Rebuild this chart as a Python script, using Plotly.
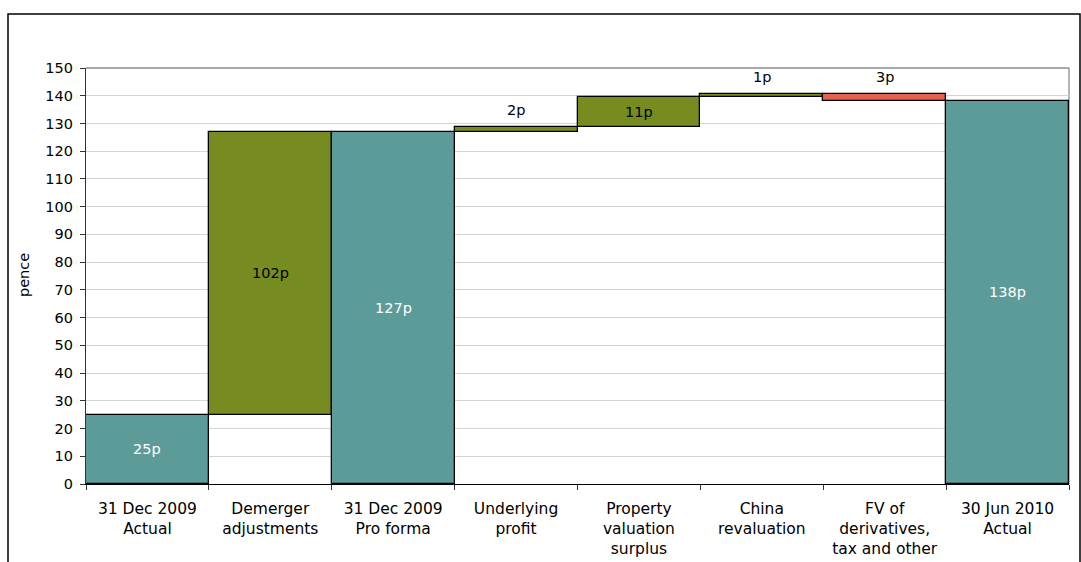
import plotly.graph_objects as go

# ---- data ----
categories = ["31 Dec 2009<br>Actual", "Demerger<br>adjustments", "31 Dec 2009<br>Pro forma",
              "Underlying<br>profit", "Property<br>valuation<br>surplus", "China<br>revaluation",
              "FV of<br>derivatives,<br>tax and other", "30 Jun 2010<br>Actual"]
measures = ["absolute", "relative", "total", "relative", "relative", "relative", "relative", "total"]
changes = [25, 102, None, 1.7, 11.0, 1.0, -2.5, None]
labels = ["25p", "102p", "127p", "2p", "11p", "1p", "3p", "138p"]
y_ticks = list(range(0, 151, 10))

# ---- styles ----
TEAL = "#5d9b99"
OLIVE = "#778c20"
RED = "#e2614f"
FONT = "DejaVu Sans"
FS = 14.5

bases, heights, colors, txtcol = [], [], [], []
running = 0.0
for m, d in zip(measures, changes):
    if m == "absolute":
        running = d
        bases.append(0); heights.append(d); colors.append(TEAL); txtcol.append("white")
    elif m == "total":
        bases.append(0); heights.append(running); colors.append(TEAL); txtcol.append("white")
    else:
        if d >= 0:
            bases.append(running); heights.append(d); colors.append(OLIVE)
        else:
            bases.append(running + d); heights.append(-d); colors.append(RED)
        txtcol.append("black")
        running += d

fig = go.Figure()
fig.add_trace(go.Bar(
    x=categories, y=heights, base=bases, width=1,
    marker=dict(color=colors, line=dict(color="black", width=1.3)),
    hoverinfo="skip", showlegend=False,
))

annotations = []
for c, b, h, lab, tc in zip(categories, bases, heights, labels, txtcol):
    if h > 5:
        annotations.append(dict(x=c, y=b + h / 2, text=lab, showarrow=False, xref="x", yref="y",
                                font=dict(family=FONT, size=FS, color=tc)))
    else:
        annotations.append(dict(x=c, y=b + h, text=lab, showarrow=False, xref="x", yref="y",
                                yanchor="bottom", yshift=7,
                                font=dict(family=FONT, size=FS, color="black")))

# y-axis title
L, R, T, B = 86, 12, 68, 78
W, H = 1081, 562
pw, ph = W - L - R, H - T - B
annotations.append(dict(x=(14 - L) / pw, y=(H - B - 275) / ph, xref="paper", yref="paper",
                        text="pence", textangle=-90, showarrow=False,
                        font=dict(family=FONT, size=FS, color="black")))

shapes = [
    # plot area top & right border
    dict(type="line", xref="paper", yref="paper", x0=0, x1=1, y0=1, y1=1,
         line=dict(color="#8c8c8c", width=1.3), layer="below"),
    dict(type="line", xref="paper", yref="paper", x0=1, x1=1, y0=0, y1=1,
         line=dict(color="#8c8c8c", width=1.3), layer="below"),
    # outer frame
    dict(type="rect", xref="paper", yref="paper",
         x0=(8 - L) / pw, x1=(1080 - L) / pw, y0=(H - B - 575) / ph, y1=(H - B - 14) / ph,
         line=dict(color="black", width=1.5), fillcolor="rgba(0,0,0,0)"),
]

fig.update_layout(
    width=W, height=H,
    margin=dict(l=L, r=R, t=T, b=B, autoexpand=False),
    paper_bgcolor="white", plot_bgcolor="white",
    bargap=0,
    font=dict(family=FONT, size=FS, color="black"),
    annotations=annotations, shapes=shapes,
    xaxis=dict(type="category", tickson="boundaries", ticks="outside", ticklen=5,
               tickcolor="#333333", showline=True, linecolor="black", linewidth=1.3,
               showgrid=False, tickfont=dict(family=FONT, size=15.5, color="black"),
               ticklabelstandoff=10, automargin=False),
    yaxis=dict(range=[0, 150], tickvals=y_ticks, ticks="outside", ticklen=5,
               tickcolor="#333333", showline=True, linecolor="#333333", linewidth=1.3,
               showgrid=True, gridcolor="#d4d4d4", gridwidth=1, zeroline=False,
               ticklabelstandoff=4,
               tickfont=dict(family=FONT, size=FS, color="black"), automargin=False),
)

fig.write_html("out.html")
